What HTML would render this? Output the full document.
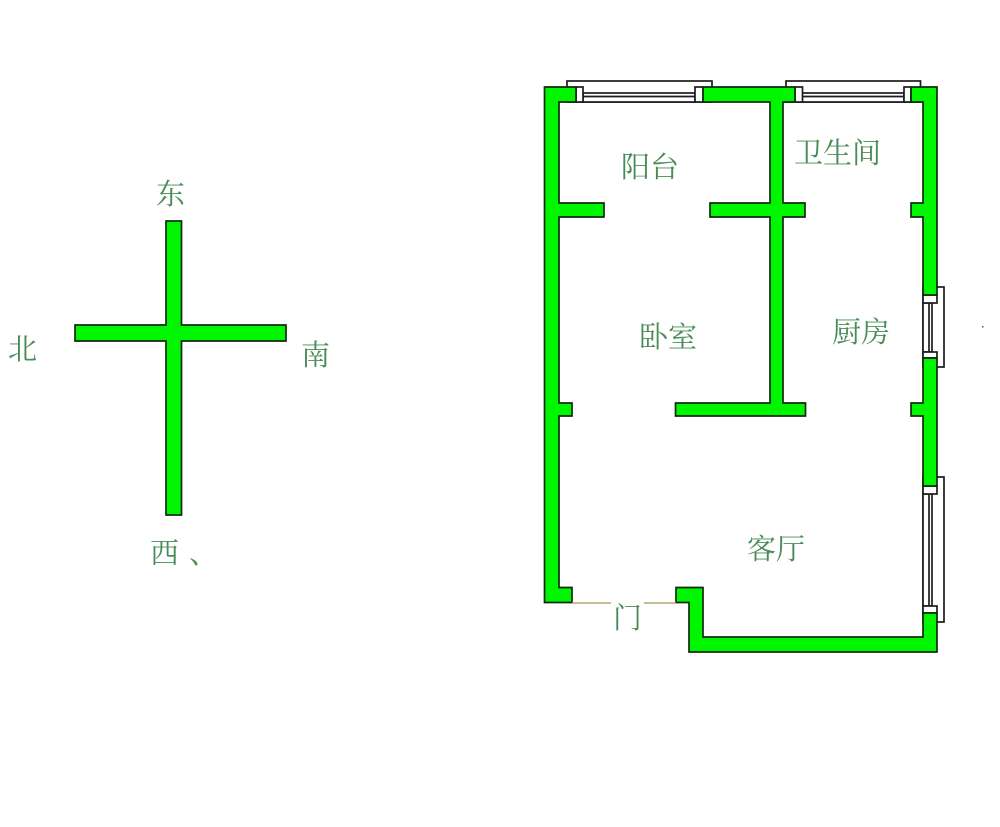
<!DOCTYPE html>
<html lang="zh">
<head>
<meta charset="utf-8">
<title>户型图</title>
<style>
html,body{margin:0;padding:0;background:#fff;}
svg{display:block;}
text{font-family:"Liberation Serif","Noto Serif CJK SC",serif;font-size:29px;fill:#4a8c58;}
.w{fill:#00f500;stroke:#0f2a0f;stroke-width:1.7;stroke-linejoin:miter;}
.l{fill:#fff;stroke:#1c1c1c;stroke-width:1.7;}
.d{stroke:#a09850;stroke-width:1.3;fill:none;}
</style>
</head>
<body>
<svg width="1000" height="827" viewBox="0 0 1000 827" xmlns="http://www.w3.org/2000/svg">
<!-- compass -->
<polygon class="w" points="166,221 181.5,221 181.5,325 286,325 286,341 181.5,341 181.5,515 166,515 166,341 75,341 75,325 166,325"/>

<!-- top windows -->
<rect class="l" x="567" y="81" width="145" height="21"/>
<rect class="l" x="786" y="81" width="134.500" height="21"/>
<!-- right windows -->
<rect class="l" x="923" y="287" width="21" height="80"/>
<rect class="l" x="923" y="477" width="21" height="145"/>

<!-- window glass -->
<g class="l">
<rect x="583" y="93" width="112" height="9"/>
<line x1="583" y1="96.500" x2="695" y2="96.500"/>
<rect x="802" y="93" width="102" height="9"/>
<line x1="802" y1="96.500" x2="904" y2="96.500"/>
<rect x="923" y="303" width="9" height="49"/>
<line x1="929" y1="303" x2="929" y2="352"/>
<rect x="923" y="494" width="9" height="112"/>
<line x1="929" y1="494" x2="929" y2="606"/>
</g>

<!-- jambs -->
<g class="l">
<rect x="576" y="87" width="7" height="15"/>
<rect x="695" y="87" width="8" height="15"/>
<rect x="795" y="87" width="7.500" height="15"/>
<rect x="904" y="87" width="7" height="15"/>
<rect x="923" y="295" width="14" height="8"/>
<rect x="923" y="352" width="14" height="6"/>
<rect x="923" y="486" width="14" height="8"/>
<rect x="923" y="606" width="14" height="7"/>
</g>

<!-- walls -->
<polygon class="w" points="544.500,87 576,87 576,102 559,102 559,203 604,203 604,217 559,217 559,403 572,403 572,416 559,416 559,587.500 572,587.500 572,602.500 544.500,602.500"/>
<polygon class="w" points="703,87 795,87 795,102 783,102 783,203 805,203 805,217 783,217 783,403 805.500,403 805.500,416 675.500,416 675.500,403 770,403 770,217 710,217 710,203 770,203 770,102 703,102"/>
<polygon class="w" points="911,87 937,87 937,295 923,295 923,217 911,217 911,203 923,203 923,102 911,102"/>
<polygon class="w" points="923,358 937,358 937,486 923,486 923,416 911,416 911,403 923,403"/>
<polygon class="w" points="923,613 937,613 937,652 689,652 689,602.500 676,602.500 676,587.500 703,587.500 703,637 923,637"/>

<!-- door lines -->
<line class="d" x1="572" y1="603" x2="611" y2="603"/>
<line class="d" x1="644" y1="603" x2="676" y2="603"/>

<!-- labels -->
<text x="621" y="177">阳台</text>
<text x="794" y="163">卫生间</text>
<text x="639" y="347">卧室</text>
<text x="832" y="342">厨房</text>
<text x="747" y="559">客厅</text>
<text x="613" y="628">门</text>
<text x="156" y="204">东</text>
<text x="8" y="359">北</text>
<text x="301" y="365">南</text>
<text x="150" y="563">西</text>
<text x="189" y="563">、</text>

<rect x="982" y="326" width="1.500" height="1.500" fill="#555"/>
</svg>
</body>
</html>
